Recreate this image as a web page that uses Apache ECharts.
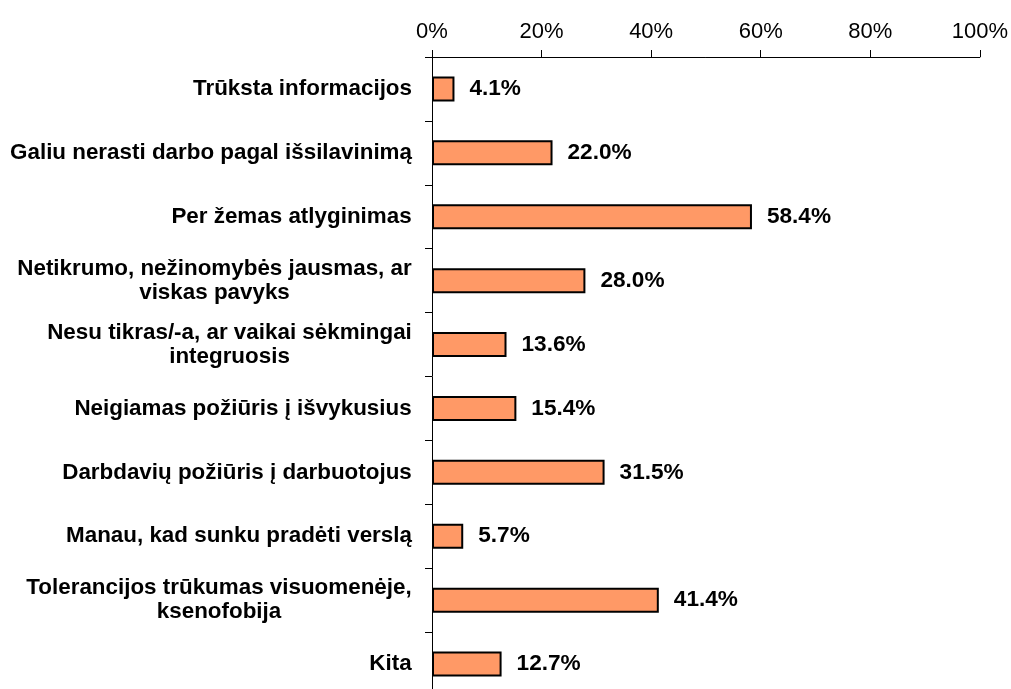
<!DOCTYPE html>
<html>
<head>
<meta charset="utf-8">
<script src="https://cdn.jsdelivr.net/npm/echarts@6/dist/echarts.min.js"></script>
<style>
  html, body { margin: 0; padding: 0; background: #fff; overflow: hidden; }
  #chart { width: 1011px; height: 700px; }
</style>
</head>
<body>
<div id="chart"></div>
<script>
// Reasons, top to bottom
const categories = [
  'Trūksta informacijos',
  'Galiu nerasti darbo pagal išsilavinimą',
  'Per žemas atlyginimas',
  'Netikrumo, nežinomybės jausmas, ar\nviskas pavyks',
  'Nesu tikras/-a, ar vaikai sėkmingai\nintegruosis',
  'Neigiamas požiūris į išvykusius',
  'Darbdavių požiūris į darbuotojus',
  'Manau, kad sunku pradėti verslą',
  'Tolerancijos trūkumas visuomenėje,\nksenofobija',
  'Kita'
];
// Share of respondents, %
const values = [4.1, 22.0, 58.4, 28.0, 13.6, 15.4, 31.5, 5.7, 41.4, 12.7];
const tickValues = [0, 20, 40, 60, 80, 100];

const FONT = 'Liberation Sans, Arial, sans-serif';
const catFontSize = 22.4;

// Measure label lines so multi-line labels can be centred within their own block
const ctx = document.createElement('canvas').getContext('2d');
ctx.font = 'bold ' + catFontSize + 'px ' + FONT;
const rich = {};
categories.forEach((c, i) => {
  const lines = c.split('\n');
  const w = Math.max(...lines.map(l => ctx.measureText(l).width));
  rich['r' + i] = {
    width: Math.ceil(w),
    align: 'center',
    fontSize: catFontSize,
    fontWeight: 'bold',
    fontFamily: FONT,
    color: '#000',
    lineHeight: 24
  };
});

const chart = echarts.init(document.getElementById('chart'), null, { renderer: 'canvas' });
chart.setOption({
  animation: false,
  backgroundColor: '#fff',
  grid: { left: 432, top: 57, width: 549, height: 639, containLabel: false },
  xAxis: {
    type: 'value',
    position: 'top',
    min: 0,
    max: 100,
    interval: 20,
    axisLine: { show: true, lineStyle: { color: '#000', width: 1 } },
    axisTick: { show: true, length: 7, lineStyle: { color: '#000', width: 1 } },
    splitLine: { show: false },
    axisLabel: {
      margin: 14,
      fontSize: 22,
      fontFamily: FONT,
      color: '#000',
      formatter: v => tickValues.includes(v) ? v + '%' : ''
    }
  },
  yAxis: {
    type: 'category',
    data: categories,
    inverse: true,
    axisLine: { show: true, lineStyle: { color: '#000', width: 1 } },
    axisTick: { show: true, length: 7, alignWithLabel: false, lineStyle: { color: '#000', width: 1 } },
    axisLabel: {
      margin: 20,
      interval: 0,
      align: 'right',
      formatter: (v, i) => v.split('\n').map(l => '{r' + i + '|' + l + '}').join('\n'),
      rich: rich
    }
  },
  series: [{
    type: 'bar',
    data: values,
    barWidth: 25,
    itemStyle: { color: '#FF9966', borderColor: '#000', borderWidth: 2 },
    label: {
      show: true,
      position: 'right',
      distance: 15,
      fontSize: 22.6,
      fontWeight: 'bold',
      fontFamily: FONT,
      color: '#000',
      formatter: p => p.value.toFixed(1) + '%'
    }
  }]
});
</script>
</body>
</html>
